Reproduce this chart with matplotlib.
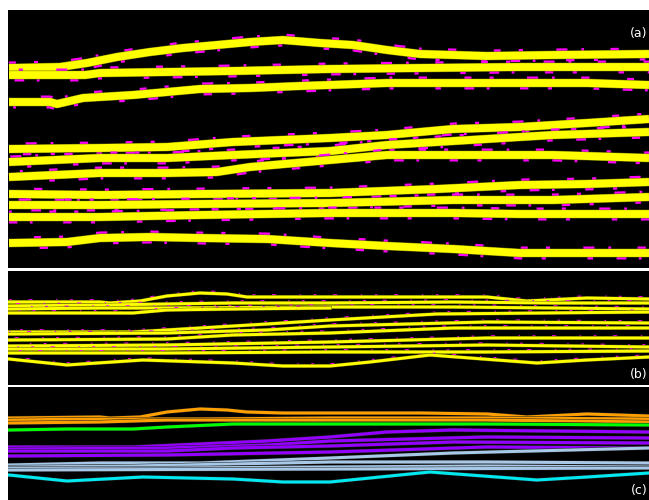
import matplotlib
matplotlib.use("Agg")
import matplotlib.pyplot as plt
import matplotlib.patheffects as pe
import matplotlib.transforms as mtransforms

plt.rcParams["lines.scale_dashes"] = False

# trace positions and picked horizon depths (pixel units of the section)
# panel (a): picked horizons, zoomed section
a_x = [
    [9, 60, 87, 117, 150, 183, 217, 250, 283, 320, 353, 387, 420, 487, 553, 649],
    [9, 85, 100, 167, 233, 330, 420, 520, 649],
    [9, 50, 57, 83, 133, 167, 200, 250, 300, 387, 487, 587, 649],
    [9, 100, 167, 233, 330, 387, 453, 520, 587, 649],
    [9, 100, 167, 233, 330, 387, 470, 553, 649],
    [9, 100, 167, 217, 250, 330, 387, 453, 553, 649],
    [9, 100, 200, 330, 437, 520, 587, 649],
    [9, 100, 200, 330, 453, 553, 649],
    [9, 100, 200, 330, 453, 520, 649],
    [9, 67, 100, 150, 200, 267, 330, 387, 453, 520, 649],
]
a_y = [
    [68, 67, 63, 57, 52, 48, 45, 42, 40, 43, 45, 50, 54, 56, 55, 54],
    [75, 75, 73, 72, 71, 69, 68, 67, 67],
    [102, 102, 104, 98, 95, 92, 89, 88, 86, 83, 83, 83, 85],
    [149, 148, 147, 142, 138, 135, 129, 127, 123, 119],
    [162, 158, 158, 155, 151, 145, 140, 135, 132],
    [177, 173, 173, 172, 167, 160, 155, 155, 155, 158],
    [194, 195, 194, 193, 189, 185, 184, 182],
    [205, 205, 204, 203, 200, 200, 197],
    [217, 217, 215, 213, 213, 214, 214],
    [243, 242, 238, 237, 238, 239, 243, 246, 249, 253, 253],
]

# panel (b): same horizons, full section
b_x = [
    [9, 100, 110, 140, 167, 200, 227, 247, 283, 330, 420, 487, 527, 587, 649],
    [9, 100, 167, 233, 330, 453, 553, 649],
    [9, 100, 167, 330, 453, 553, 649],
    [9, 133, 167, 233, 330],
    [9, 133, 200, 267, 330, 437, 649],
    [9, 167, 267, 330, 487, 649],
    [9, 167, 233, 330, 453, 649],
    [9, 167, 330, 487, 649],
    [9, 167, 330, 487, 649],
    [9, 167, 330, 487, 649],
    [9, 67, 143, 233, 283, 330, 370, 430, 470, 537, 587, 649],
]
b_y = [
    [302, 302, 303, 301, 296, 293, 294, 297, 297, 297, 297, 297, 301, 298, 299],
    [306, 305, 304, 303, 303, 302, 303, 303],
    [309, 308, 308, 307, 307, 308, 309],
    [313, 313, 310, 309, 308],
    [332, 332, 328, 324, 320, 314, 312],
    [334, 333, 330, 326, 322, 323],
    [340, 339, 335, 333, 328, 328],
    [346, 345, 342, 338, 338],
    [349, 349, 347, 345, 347],
    [353, 353, 352, 352, 351],
    [359, 365, 360, 363, 366, 366, 362, 355, 358, 363, 360, 357],
]

# panel (c): horizons grouped by unit
c_x = [
    [9, 100, 110, 140, 167, 200, 227, 247, 283, 330, 420, 487, 527, 587, 649],
    [9, 100, 200, 330, 487, 649],
    [9, 100, 167, 330, 487, 649],
    [9, 67, 133, 167, 233, 330, 487, 649],
    [9, 133, 200, 267, 330, 387, 453, 649],
    [9, 167, 267, 330, 487, 649],
    [9, 167, 233, 330, 453, 649],
    [9, 167, 330, 487, 649],
    [9, 100, 200, 330, 453, 649],
    [9, 133, 330, 487, 649],
    [9, 167, 330, 487, 649],
    [9, 330, 649],
    [9, 67, 143, 233, 283, 330, 370, 430, 470, 537, 587, 649],
]
c_y = [
    [418, 417, 418, 417, 412, 409, 410, 412, 413, 413, 413, 414, 417, 414, 416],
    [420, 419, 419, 418, 418, 419],
    [423, 422, 420, 420, 420, 422],
    [430, 429, 429, 427, 424, 424, 424, 425],
    [447, 447, 444, 441, 437, 432, 430, 432],
    [449, 448, 445, 441, 437, 438],
    [451, 451, 448, 446, 442, 443],
    [456, 455, 452, 447, 448],
    [465, 463, 463, 458, 453, 448],
    [467, 466, 462, 462, 463],
    [468, 468, 467, 466, 467],
    [470, 469, 468],
    [475, 481, 477, 479, 482, 482, 478, 472, 475, 480, 477, 473],
]
c_colors = ["#ffa000", "#ffa000", "#ffa000", "#00ff00",
            "#9400ff", "#9400ff", "#9400ff", "#9400ff",
            "#a8c8e8", "#a8c8e8", "#a8c8e8", "#a8c8e8", "#00e8f0"]

fig = plt.figure(figsize=(6.49, 5.0), dpi=100)
fig.patch.set_facecolor("white")

W, H = 649.0, 500.0
ax_a = fig.add_axes([8 / W, (H - 268) / H, 641 / W, 258 / H])
ax_b = fig.add_axes([8 / W, (H - 385) / H, 641 / W, 114 / H])
ax_c = fig.add_axes([8 / W, 0, 641 / W, 113 / H])

for ax, top, bot in [(ax_a, 10, 268), (ax_b, 271, 385), (ax_c, 387, 500)]:
    ax.set_facecolor("black")
    ax.set_xlim(8, 649)
    ax.set_ylim(bot, top)
    ax.set_xticks([])
    ax.set_yticks([])
    for s in ax.spines.values():
        s.set_visible(False)

# speckle patterns peeking out above / below each pick
speckle_up = (5, 13, 3, 24, 8, 10, 2, 19, 6, 27)
speckle_dn = (4, 17, 7, 9, 2, 22, 6, 14, 3, 30)

# (a) thick yellow picks with magenta speckle along the edges
up_a = mtransforms.offset_copy(ax_a.transData, fig=fig, x=0, y=2.2, units="points")
dn_a = mtransforms.offset_copy(ax_a.transData, fig=fig, x=0, y=-2.2, units="points")
for i, (xs, ys) in enumerate(zip(a_x, a_y)):
    ax_a.plot(xs, ys, color="#ff00ff", lw=5.0, ls=(i * 11, speckle_up),
              dash_capstyle="butt", transform=up_a)
    ax_a.plot(xs, ys, color="#ff00ff", lw=5.0, ls=(i * 17, speckle_dn),
              dash_capstyle="butt", transform=dn_a)
    ax_a.plot(xs, ys, color="#ffff00", lw=5.6, solid_capstyle="butt",
              path_effects=[pe.Stroke(linewidth=6.3, foreground="#6b6b00"), pe.Normal()])

# (b) thin yellow picks
up_b = mtransforms.offset_copy(ax_b.transData, fig=fig, x=0, y=0.8, units="points")
for i, (xs, ys) in enumerate(zip(b_x, b_y)):
    ax_b.plot(xs, ys, color="#ff00ff", lw=2.4, ls=(i * 9, (2, 12, 3, 17, 1, 9)),
              dash_capstyle="butt", transform=up_b)
    ax_b.plot(xs, ys, color="#ffff00", lw=2.1,
              path_effects=[pe.Stroke(linewidth=2.7, foreground="#5a5a00"), pe.Normal()])

# (c) coloured horizons
for xs, ys, col in zip(c_x, c_y, c_colors):
    ax_c.plot(xs, ys, color=col, lw=2.2,
              path_effects=[pe.Stroke(linewidth=2.9, foreground="#202020"), pe.Normal()])

ax_a.text(0.998, 0.91, "(a)", transform=ax_a.transAxes, color="white",
          fontsize=9, ha="right", va="center")
ax_b.text(0.998, 0.09, "(b)", transform=ax_b.transAxes, color="white",
          fontsize=9, ha="right", va="center")
ax_c.text(0.998, 0.08, "(c)", transform=ax_c.transAxes, color="white",
          fontsize=9, ha="right", va="center")

fig.savefig("out.png", dpi=100, facecolor="white")
